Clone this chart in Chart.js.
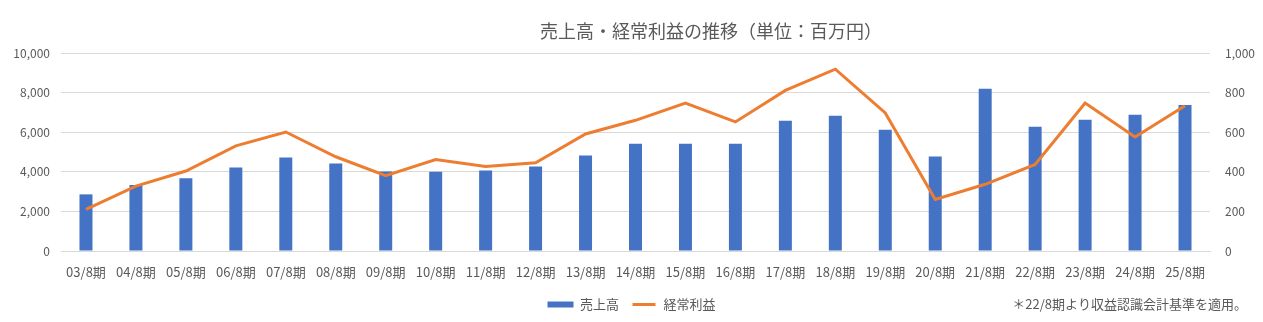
<!DOCTYPE html>
<html>
<head>
<meta charset="utf-8">
<script src="https://cdn.jsdelivr.net/npm/chart.js@4.4.1/dist/chart.umd.min.js"></script>
<style>
  html, body { margin: 0; padding: 0; background: #fff; }
  #wrap { width: 1263px; height: 322px; }
</style>
</head>
<body>
<div id="wrap"><canvas id="salesChart"></canvas></div>
<script>
// data
const periods = ['03/8期','04/8期','05/8期','06/8期','07/8期','08/8期','09/8期','10/8期','11/8期','12/8期','13/8期','14/8期',
                 '15/8期','16/8期','17/8期','18/8期','19/8期','20/8期','21/8期','22/8期','23/8期','24/8期','25/8期'];
const sales = [2860, 3330, 3670, 4220, 4720, 4420, 4020, 4000, 4070, 4270, 4820, 5420,
               5420, 5420, 6580, 6830, 6130, 4770, 8190, 6280, 6630, 6880, 7380];
const ordinaryProfit = [210, 328, 404, 531, 601, 476, 380, 462, 427, 446, 591, 660,
                        747, 652, 811, 918, 697, 260, 337, 437, 747, 576, 734];
const chartTitle = '売上高・経常利益の推移（単位：百万円）';
const footNote = '＊22/8期より収益認識会計基準を適用。';

const FONT = '"Noto Sans CJK JP", "Noto Sans", sans-serif';
const TEXT = '#595959';
const BLUE = '#4472C4';
const ORANGE = '#ED7D31';

// title and footnote are drawn on the canvas at fixed spots
const textPlugin = {
  id: 'extraText',
  afterDraw(chart) {
    const ctx = chart.ctx;
    ctx.save();
    ctx.fillStyle = TEXT;
    ctx.textBaseline = 'middle';
    ctx.font = '18px ' + FONT;
    ctx.textAlign = 'center';
    ctx.fillText(chartTitle, 711, 31);
    ctx.font = '13px ' + FONT;
    ctx.textAlign = 'right';
    ctx.fillText(footNote, 1247, 304);
    ctx.restore();
  }
};

const ctx = document.getElementById('salesChart').getContext('2d');
const salesChart = new Chart(ctx, {
  data: {
    labels: periods,
    datasets: [{
      type: 'line',
      label: '経常利益',
      data: ordinaryProfit,
      yAxisID: 'y1',
      borderColor: ORANGE,
      borderWidth: 3,
      pointRadius: 0,
      tension: 0,
      order: 0
    }, {
      type: 'bar',
      label: '売上高',
      data: sales,
      yAxisID: 'y',
      backgroundColor: BLUE,
      categoryPercentage: 0.5,
      barPercentage: 0.52,
      order: 1
    }]
  },
  plugins: [textPlugin],
  options: {
    responsive: true,
    maintainAspectRatio: false,
    animation: false,
    layout: { padding: { top: 53, bottom: 1, left: 0, right: 0 } },
    plugins: {
      title: { display: false },
      tooltip: { enabled: false },
      legend: {
        position: 'bottom',
        labels: {
          font: { family: FONT, size: 13 },
          color: TEXT,
          boxWidth: 26,
          boxHeight: 6,
          padding: 12,
          generateLabels(chart) {
            return [
              { text: '売上高', fillStyle: BLUE, strokeStyle: BLUE, lineWidth: 0, fontColor: TEXT, datasetIndex: 1 },
              { text: '経常利益', fillStyle: ORANGE, strokeStyle: '#ffffff', lineWidth: 3, fontColor: TEXT, datasetIndex: 0 }
            ];
          }
        }
      }
    },
    scales: {
      x: {
        grid: { display: false },
        border: { display: true, color: '#D9D9D9' },
        ticks: { font: { family: FONT, size: 13 }, color: TEXT, maxRotation: 0, autoSkip: false, padding: 5 },
        afterFit(scale) { scale.height = 35; }
      },
      y: {
        position: 'left',
        min: 0,
        max: 10000,
        border: { display: false },
        grid: { color: '#D9D9D9', drawTicks: false },
        ticks: {
          stepSize: 2000,
          padding: 11,
          font: { family: FONT, size: 12 },
          color: TEXT,
          callback: v => v.toLocaleString('en-US')
        },
        afterFit(scale) { scale.width = 61; }
      },
      y1: {
        position: 'right',
        min: 0,
        max: 1000,
        border: { display: false },
        grid: { drawOnChartArea: false, drawTicks: false },
        ticks: {
          stepSize: 200,
          padding: 15,
          font: { family: FONT, size: 12 },
          color: TEXT,
          callback: v => v.toLocaleString('en-US')
        },
        afterFit(scale) { scale.width = 53; }
      }
    }
  }
});
</script>
</body>
</html>
